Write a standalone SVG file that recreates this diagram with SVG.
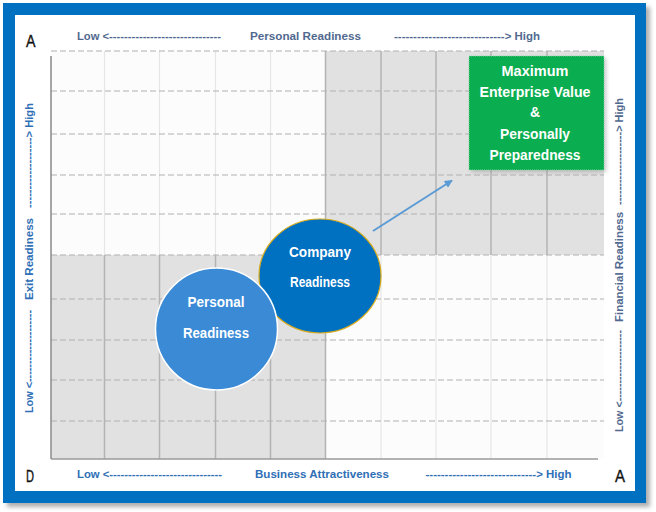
<svg xmlns="http://www.w3.org/2000/svg" width="656" height="512" viewBox="0 0 656 512">
<style>
.ax{font-family:"Liberation Sans",Arial,sans-serif;font-weight:bold;font-size:11.5px}
.gb{fill:#51698f}
.bl{fill:#2f6fb6}
.corner{font-family:"Liberation Sans",Arial,sans-serif;font-size:16px;fill:#111;stroke:#111;stroke-width:0.35}
.wt{font-family:"Liberation Sans",Arial,sans-serif;font-weight:bold;font-size:14px;fill:#fff;text-anchor:middle}
.vd{stroke:#b3b3b3;stroke-width:1.5}
.vl{stroke:#e6e6e6;stroke-width:1.2}
.hd{stroke:#b4b4b4;stroke-opacity:0.7;stroke-width:1.3;stroke-dasharray:6 3}
</style>
<defs>
<filter id="sh" x="-5%" y="-5%" width="110%" height="110%"><feGaussianBlur stdDeviation="2"/></filter>
<marker id="ah" viewBox="0 0 10 10" refX="9" refY="5" markerWidth="9" markerHeight="8" markerUnits="userSpaceOnUse" orient="auto"><path d="M0,0 L10,5 L0,10 z" fill="#5b9bd5"/></marker>
</defs>

<g id="frame">
<rect x="7" y="7" width="643" height="500" fill="#7a7a7a" opacity="0.6" filter="url(#sh)"/>
<rect x="3" y="3" width="643" height="500" fill="#0070c0"/>
<rect x="15" y="15" width="620" height="476" fill="#ffffff"/>
</g>

<g id="grid">
<rect x="51" y="51" width="553" height="408" fill="#fcfcfc"/>
<rect x="325.5" y="51" width="278.5" height="204" fill="#e1e1e1"/>
<rect x="51" y="255" width="274.5" height="204" fill="#e1e1e1"/>
<g>
<line class="vl" x1="104.5" y1="51" x2="104.5" y2="255"/>
<line class="vl" x1="159.5" y1="51" x2="159.5" y2="255"/>
<line class="vl" x1="215.5" y1="51" x2="215.5" y2="255"/>
<line class="vl" x1="270.5" y1="51" x2="270.5" y2="255"/>
<line class="vd" x1="104.5" y1="255" x2="104.5" y2="459"/>
<line class="vd" x1="159.5" y1="255" x2="159.5" y2="459"/>
<line class="vd" x1="215.5" y1="255" x2="215.5" y2="459"/>
<line class="vd" x1="270.5" y1="255" x2="270.5" y2="459"/>
<line class="vd" x1="325.5" y1="51" x2="325.5" y2="459"/>
<line class="vd" x1="381" y1="51" x2="381" y2="255"/>
<line class="vd" x1="436" y1="51" x2="436" y2="255"/>
<line class="vd" x1="491" y1="51" x2="491" y2="255"/>
<line class="vd" x1="547" y1="51" x2="547" y2="255"/>
<line class="vl" x1="381" y1="255" x2="381" y2="459"/>
<line class="vl" x1="436" y1="255" x2="436" y2="459"/>
<line class="vl" x1="491" y1="255" x2="491" y2="459"/>
<line class="vl" x1="547" y1="255" x2="547" y2="459"/>
</g>
<g>
<line class="hd" x1="51" y1="51" x2="604" y2="51"/>
<line class="hd" x1="51" y1="91" x2="604" y2="91"/>
<line class="hd" x1="51" y1="134" x2="604" y2="134"/>
<line class="hd" x1="51" y1="175" x2="604" y2="175"/>
<line class="hd" x1="51" y1="214" x2="604" y2="214"/>
<line class="hd" x1="51" y1="255" x2="604" y2="255"/>
<line class="hd" x1="51" y1="299" x2="604" y2="299"/>
<line class="hd" x1="51" y1="340" x2="604" y2="340"/>
<line class="hd" x1="51" y1="380" x2="604" y2="380"/>
<line class="hd" x1="51" y1="421" x2="604" y2="421"/>
</g>
<line x1="51" y1="56" x2="51" y2="459" stroke="#8a8a8a" stroke-width="1.5"/>
<line x1="51" y1="459" x2="598" y2="459" stroke="#9a9a9a" stroke-width="1.5"/>
</g>

<g id="axis-labels">
<text class="corner" x="26" y="47" textLength="9.5" lengthAdjust="spacingAndGlyphs">A</text>
<text class="corner" x="26" y="482" textLength="8" lengthAdjust="spacingAndGlyphs">D</text>
<text class="corner" x="615" y="482" textLength="10" lengthAdjust="spacingAndGlyphs">A</text>

<text class="ax gb" x="77" y="40" textLength="144" lengthAdjust="spacingAndGlyphs">Low &lt;------------------------------</text>
<text class="ax gb" x="250" y="40" textLength="111" lengthAdjust="spacingAndGlyphs">Personal Readiness</text>
<text class="ax gb" x="394" y="40" textLength="146" lengthAdjust="spacingAndGlyphs">-----------------------------&gt; High</text>

<text class="ax bl" x="77" y="478" textLength="145" lengthAdjust="spacingAndGlyphs">Low &lt;------------------------------</text>
<text class="ax bl" x="255" y="478" textLength="134" lengthAdjust="spacingAndGlyphs">Business Attractiveness</text>
<text class="ax bl" x="425.5" y="478" textLength="146" lengthAdjust="spacingAndGlyphs">-----------------------------&gt; High</text>

<text class="ax bl" x="33" y="413" transform="rotate(-90 33 413)" textLength="103" lengthAdjust="spacingAndGlyphs">Low &lt;--------------------</text>
<text class="ax bl" x="33" y="300" transform="rotate(-90 33 300)" textLength="82" lengthAdjust="spacingAndGlyphs">Exit Readiness</text>
<text class="ax bl" x="33" y="208" transform="rotate(-90 33 208)" textLength="105" lengthAdjust="spacingAndGlyphs">-------------------&gt; High</text>

<text class="ax gb" x="623" y="432" transform="rotate(-90 623 432)" textLength="102" lengthAdjust="spacingAndGlyphs">Low &lt;--------------------</text>
<text class="ax gb" x="623" y="322" transform="rotate(-90 623 322)" textLength="110" lengthAdjust="spacingAndGlyphs">Financial Readiness</text>
<text class="ax gb" x="623" y="205" transform="rotate(-90 623 205)" textLength="107" lengthAdjust="spacingAndGlyphs">--------------------&gt; High</text>
</g>

<g id="connectors">
<line x1="373" y1="231" x2="452" y2="180.5" stroke="#5b9bd5" stroke-width="2" marker-end="url(#ah)"/>
</g>

<g id="node-max-value">
<rect x="471" y="58" width="135" height="114" fill="#8a8a8a" opacity="0.5" filter="url(#sh)"/>
<rect x="469" y="56" width="135" height="114" fill="#0aad4f" stroke="#8fdcae" stroke-width="0.8" stroke-dasharray="1 1"/>
<text class="wt" x="535" y="76" textLength="67" lengthAdjust="spacingAndGlyphs">Maximum</text>
<text class="wt" x="535" y="97" textLength="111" lengthAdjust="spacingAndGlyphs">Enterprise Value</text>
<text class="wt" x="535" y="117">&amp;</text>
<text class="wt" x="535" y="139" textLength="70" lengthAdjust="spacingAndGlyphs">Personally</text>
<text class="wt" x="535" y="160" textLength="91" lengthAdjust="spacingAndGlyphs">Preparedness</text>
</g>

<g id="node-company">
<ellipse cx="320" cy="276" rx="61" ry="57" fill="#0070c0" stroke="#d9ab1c" stroke-width="1.2"/>
<text class="wt" x="320" y="257" textLength="62" lengthAdjust="spacingAndGlyphs">Company</text>
<text class="wt" x="320" y="287" textLength="60" lengthAdjust="spacingAndGlyphs">Readiness</text>
</g>

<g id="node-personal">
<circle cx="216.5" cy="329" r="61" fill="#3a8ad6" stroke="#ffffff" stroke-width="1.5"/>
<text class="wt" x="216" y="307" textLength="57" lengthAdjust="spacingAndGlyphs">Personal</text>
<text class="wt" x="216" y="338" textLength="66" lengthAdjust="spacingAndGlyphs">Readiness</text>
</g>
</svg>
